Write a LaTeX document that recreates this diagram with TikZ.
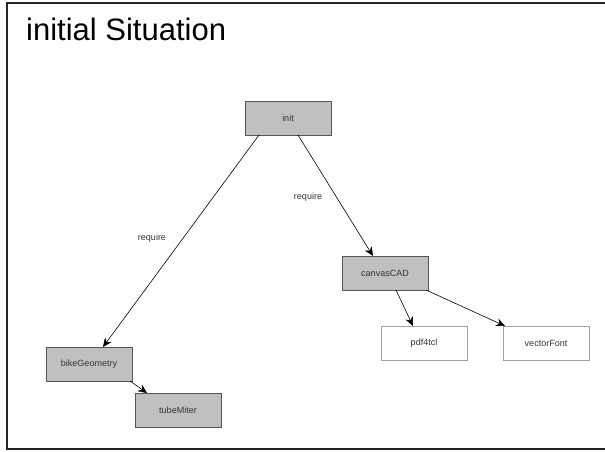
\documentclass[tikz,border=0pt]{standalone}
\usepackage{fontspec}
\setmainfont{Liberation Sans}
\usetikzlibrary{arrows.meta}
\definecolor{boxgray}{HTML}{C0C0C0}
\definecolor{boxedge}{HTML}{555555}
\definecolor{leafedge}{HTML}{A0A0A0}
\tikzset{
  modbox/.style={draw=boxedge, fill=boxgray, line width=0.8pt, minimum width=86pt, minimum height=34pt, inner sep=0pt, font=\fontsize{9}{10}\selectfont, text=black!80},
  leafbox/.style={draw=leafedge, fill=white, line width=0.6pt, minimum width=86pt, minimum height=34pt, inner sep=0pt, font=\fontsize{9}{10}\selectfont, text=black!80},
  conn/.style={line width=0.6pt, -{Stealth[length=9pt,width=8pt]}},
  lbl/.style={font=\fontsize{9}{10}\selectfont, text=black!80, inner sep=0pt}
}
\begin{document}
\begin{tikzpicture}[x=1pt,y=-1pt]
\useasboundingbox (0,0) rectangle (605,451);
\begin{scope}
\clip (0,0) rectangle (605,451);
\draw[line width=1.5pt, black!85] (7,3) rectangle (660,449);
\end{scope}
\node[anchor=base west, font=\fontsize{31}{34}\selectfont, inner sep=0pt] (title) at (26,40) {initial Situation};
\node[modbox] (init) at (288,118) {init};
\node[modbox] (canvas) at (385,273) {canvasCAD};
\node[leafbox] (pdf) at (424,343) {pdf4tcl};
\node[leafbox] (vfont) at (546,343) {vectorFont};
\node[modbox] (bike) at (89,364) {bikeGeometry};
\node[modbox] (tube) at (178,410) {tubeMiter};
\coordinate (a1) at (259,135);
\coordinate (b1) at (103,347);
\coordinate (a2) at (298,135);
\coordinate (b2) at (373,256);
\coordinate (a3) at (396,290);
\coordinate (b3) at (413,326);
\coordinate (a4) at (426,290);
\coordinate (b4) at (505,326);
\coordinate (a5) at (130,381);
\coordinate (b5) at (147,393);
\draw[conn] (a1) -- (b1);
\draw[conn] (a2) -- (b2);
\draw[conn] (a3) -- (b3);
\draw[conn] (a4) -- (b4);
\draw[conn] (a5) -- (b5);
\node[lbl] (req1) at (152,238) {require};
\node[lbl] (req2) at (308,197) {require};
\end{tikzpicture}
\end{document}
